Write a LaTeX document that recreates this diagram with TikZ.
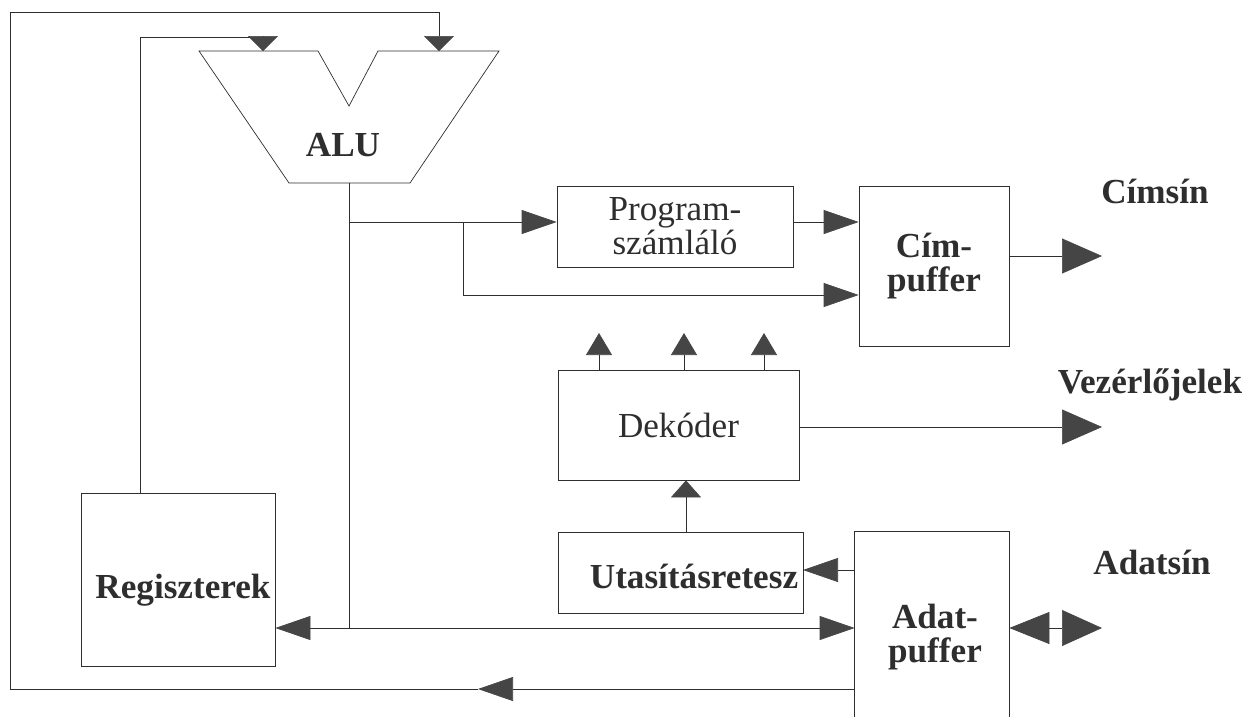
\documentclass[tikz,border=0pt]{standalone}
\usepackage{fontspec}
\setmainfont{Liberation Serif}
\usepackage{tikz}
\usetikzlibrary{arrows.meta,positioning}
\pgfdeclarelayer{edgelayer}
\pgfdeclarelayer{nodelayer}
\pgfsetlayers{edgelayer,nodelayer,main}
\definecolor{ink}{HTML}{2E2E2E}
\definecolor{headgray}{HTML}{454545}
\tikzset{every picture/.style={line width=1.2pt}}
\tikzstyle{none}=[inner sep=0pt]
\tikzstyle{unit}=[rectangle,draw=ink,inner sep=0pt,align=center,text=ink,font=\fontsize{20pt}{19.5pt}\selectfont\bfseries]
\tikzstyle{unitlight}=[unit,font=\fontsize{20pt}{19.5pt}\selectfont]
\tikzstyle{opendata}=[rectangle,draw=none,inner sep=0pt]
\tikzstyle{unittext}=[inner sep=0pt,align=center,text=ink,font=\fontsize{20pt}{19.5pt}\selectfont\bfseries]
\tikzstyle{busname}=[inner sep=0pt,text=ink,font=\fontsize{20pt}{19.5pt}\selectfont\bfseries]
\tikzstyle{wire}=[-,draw=ink]
\tikzstyle{inarrow}=[-{Triangle[length=0.7cm,width=0.48cm,color=headgray]},draw=ink]
\tikzstyle{outarrow}=[-{Triangle[length=0.8cm,width=0.7cm,color=headgray]},draw=ink]
\tikzstyle{bothway}=[{Triangle[length=0.8cm,width=0.64cm,color=headgray]}-{Triangle[length=0.8cm,width=0.72cm,color=headgray]},draw=ink]
\tikzstyle{aluarrow}=[-{Triangle[length=0.3cm,width=0.6cm,color=headgray]},draw=ink]
\tikzstyle{decarrow}=[-{Triangle[length=0.44cm,width=0.52cm,color=headgray]},draw=ink]
\tikzstyle{latcharrow}=[-{Triangle[length=0.34cm,width=0.6cm,color=headgray]},draw=ink]

\begin{document}
\begin{tikzpicture}
	\useasboundingbox (0,0) rectangle (25.16,-14.34);
	\begin{pgfonlayer}{nodelayer}
		% ALU
		\draw [draw=ink] (3.98,-1.02) -- (6.36,-1.02) -- (6.98,-2.12) -- (7.56,-1.02) -- (9.98,-1.02) -- (8.2,-3.66) -- (5.78,-3.66) -- cycle;
		\node [style=unittext] (ALU) at (6.86,-2.9) {ALU};
		\node [style=none] (AluL) at (5.26,-1.02) {};
		\node [style=none] (AluR) at (8.78,-1.02) {};
		\node [style=none] (AluOut) at (6.98,-3.66) {};
		% blocks
		\node [style=unit, minimum width=3.88cm, minimum height=3.46cm] (Reg) at (3.56,-11.59) {};
		\node [style=unittext] (RegText) at (3.66,-11.8) {Regiszterek};
		\node [style=unitlight, minimum width=4.72cm, minimum height=1.62cm] (PC) at (13.5,-4.53) {Program-\\számláló};
		\node [style=unit, minimum width=3cm, minimum height=3.2cm] (Cim) at (18.68,-5.32) {Cím-\\puffer};
		\node [style=unitlight, minimum width=4.82cm, minimum height=2.2cm] (Dek) at (13.57,-8.5) {Dekóder};
		\node [style=unit, minimum width=4.9cm, minimum height=1.62cm] (Utas) at (13.61,-11.45) {};
		\node [style=unittext] (UtasText) at (13.88,-11.52) {Utasításretesz};
		\node [style=opendata, minimum width=3.08cm, minimum height=3.7cm] (Adat) at (18.64,-12.49) {};
		\node [style=unittext] (AdatText) at (18.7,-12.74) {Adat-\\puffer};
		% bus names
		\node [style=busname] (CimBus) at (23.1,-3.82) {Címsín};
		\node [style=busname] (CtrlBus) at (23.0,-7.7) {Vezérlőjelek};
		\node [style=busname] (DataBus) at (23.04,-11.24) {Adatsín};
		% bends and free ends
		\node [style=none] (RegUp) at (2.8,-9.86) {};
		\node [style=none] (AluTurn) at (5.26,-0.74) {};
		\node [style=none] (LoopStart) at (17.1,-13.78) {};
		\node [style=none] (LoopMid) at (9.56,-13.78) {};
		\node [style=none] (LoopCorner) at (0.2,-0.24) {};
		\node [style=none] (BusJ) at (6.98,-12.56) {};
		\node [style=none] (PcJ) at (6.98,-4.44) {};
		\node [style=none] (CimJ) at (9.26,-4.44) {};
		\node [style=none] (CimLow) at (9.26,-5.9) {};
		\node [style=none] (CimOut) at (22.04,-5.12) {};
		\node [style=none] (DekOut) at (22.04,-8.54) {};
		\node [style=none] (AdatOut) at (22.04,-12.56) {};
		\node [style=none] (UtasUp) at (13.72,-10.64) {};
		\node [style=none] (UtasIn) at (16.06,-11.4) {};
		\node [style=none] (D1) at (11.98,-6.66) {};
		\node [style=none] (D2) at (13.68,-6.66) {};
		\node [style=none] (D3) at (15.28,-6.66) {};
	\end{pgfonlayer}
	\begin{pgfonlayer}{edgelayer}
		% feedback loops into the ALU
		\draw [style=aluarrow] (RegUp.center) |- (AluTurn.center) to (AluL.center);
		\draw [style=inarrow] (LoopStart.center) to (LoopMid.center);
		\draw [style=aluarrow] (LoopMid.center) -| (LoopCorner.center) -| (AluR.center);
		% data-puffer open box
		\draw [style=wire] (Adat.south west) -- (Adat.north west) -- (Adat.north east) -- (Adat.south east);
		% ALU result
		\draw [style=wire] (AluOut.center) to (BusJ.center);
		\draw [style=inarrow] (BusJ.center) to (BusJ.center -| Reg.east);
		\draw [style=inarrow] (BusJ.center) to (BusJ.center -| Adat.west);
		\draw [style=inarrow] (PcJ.center) to (PcJ.center -| PC.west);
		\draw [style=inarrow] (CimJ.center) |- (CimLow.center -| Cim.west);
		\draw [style=inarrow] (PC.east |- PcJ.center) to (Cim.west |- PcJ.center);
		% outputs
		\draw [style=outarrow] (Cim.east |- CimOut.center) to (CimOut.center);
		\draw [style=outarrow] (Dek.east |- DekOut.center) to (DekOut.center);
		\draw [style=bothway] (Adat.east |- AdatOut.center) to (AdatOut.center);
		% decoder
		\foreach \d in {D1,D2,D3}
			\draw [style=decarrow] (\d.center |- Dek.north) to (\d.center);
		\draw [style=latcharrow] (UtasUp.center) to (UtasUp.center |- Dek.south);
		\draw [style=inarrow] (Adat.west |- UtasIn.center) to (UtasIn.center);
	\end{pgfonlayer}
\end{tikzpicture}
\end{document}
